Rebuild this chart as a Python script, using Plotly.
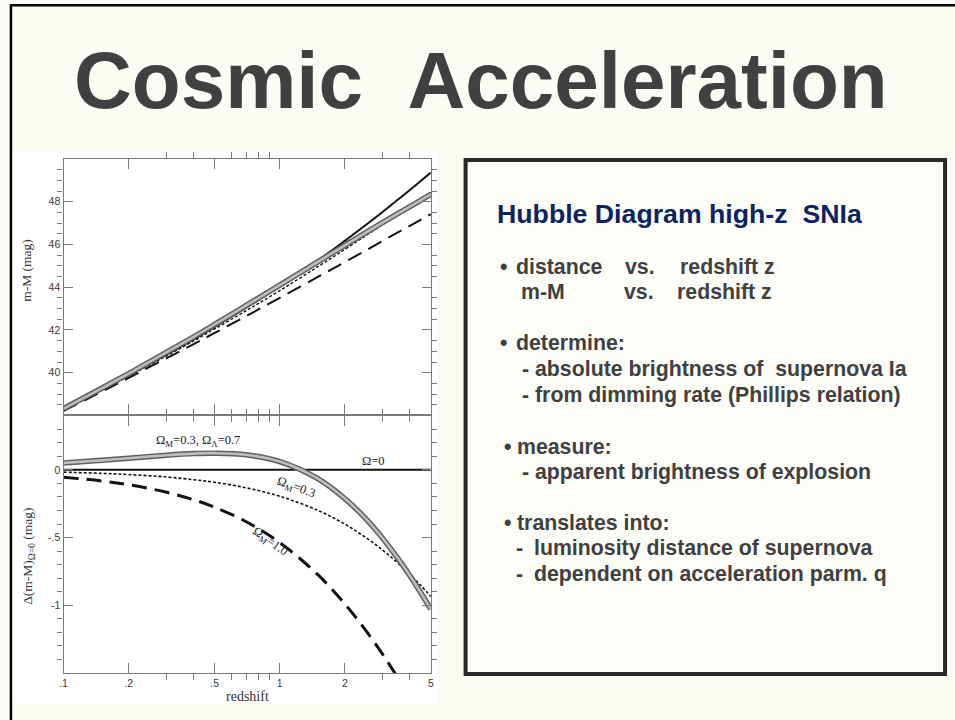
import plotly.graph_objects as go

# ---------------- data ----------------
Z = [0.1, 0.15, 0.2, 0.3, 0.4, 0.5, 0.7, 1.0, 1.5, 2.0, 2.5, 3.0, 3.5, 4.0, 4.5, 5.0]

# distance modulus m-M (mag)
MU_EMPTY = [38.26, 39.20, 39.87, 40.85, 41.56, 42.14, 43.04, 44.04, 45.25, 46.17, 46.91, 47.53, 48.08, 48.55, 48.98, 49.37]
MU_LAMBDA = [38.32, 39.27, 39.96, 40.96, 41.68, 42.26, 43.15, 44.10, 45.19, 45.96, 46.55, 47.03, 47.43, 47.77, 48.08, 48.34]
MU_OPEN = [38.25, 39.17, 39.84, 40.79, 41.49, 42.05, 42.90, 43.84, 44.96, 45.77, 46.41, 46.94, 47.39, 47.78, 48.13, 48.44]
MU_EDS = [38.21, 39.11, 39.76, 40.68, 41.34, 41.86, 42.65, 43.50, 44.48, 45.18, 45.72, 46.17, 46.55, 46.87, 47.16, 47.42]

# difference to the empty (Omega=0) model
D_EMPTY = [0.0] * len(Z)
D_LAMBDA = [0.051, 0.070, 0.086, 0.108, 0.120, 0.123, 0.111, 0.061, -0.065, -0.212, -0.361, -0.508, -0.648, -0.782, -0.909, -1.029]
D_OPEN = [-0.017, -0.026, -0.035, -0.053, -0.073, -0.092, -0.133, -0.195, -0.299, -0.401, -0.500, -0.594, -0.685, -0.772, -0.855, -0.935]
D_EDS = [-0.055, -0.082, -0.110, -0.166, -0.221, -0.276, -0.383, -0.537, -0.774, -0.990, -1.186, -1.365, -1.530, -1.683, -1.826, -1.959]

X_MAJOR = [0.1, 0.2, 0.5, 1, 2, 5]
X_MAJOR_TEXT = [".1", ".2", ".5", "1", "2", "5"]
X_MINOR = [0.3, 0.4, 0.6, 0.7, 0.8, 0.9, 3, 4]
Y_TOP_TICKS = [40, 42, 44, 46, 48]
Y_BOT_TICKS = [-1, -0.5, 0]
Y_BOT_TEXT = ["-1", "-.5", "0"]

TITLE = "Cosmic\u00a0\u00a0Acceleration"
BOX_HEADING = "Hubble Diagram high-z\u00a0\u00a0SNIa"

# ---------------- page geometry (pixels) ----------------
W, H = 955, 720
BG = "#fcfcf5"
TXT = "#404040"


def px(x):
    return x / W


def py(y):
    return 1 - y / H


PLOT_L, PLOT_R = 60, 430
TOP_T, MID, BOT_B = 159, 415, 673
LW = 1.3  # frame line width; panels overlap by it so the shared edge is one line

fig = go.Figure()

AX_COL = "#7a7a7a"


def add_curves(xa, ya, empty, lam, opn, eds, eds_w, dash_w):
    fig.add_trace(go.Scatter(x=Z, y=eds, xaxis=xa, yaxis=ya, mode="lines",
                             line=dict(color="#111", width=eds_w, dash="15px,8px", shape="spline")))
    fig.add_trace(go.Scatter(x=Z, y=opn, xaxis=xa, yaxis=ya, mode="lines",
                             line=dict(color="#111", width=dash_w, dash="3px,2px", shape="spline")))
    fig.add_trace(go.Scatter(x=Z, y=empty, xaxis=xa, yaxis=ya, mode="lines",
                             line=dict(color="#111", width=2, shape="spline")))
    fig.add_trace(go.Scatter(x=Z, y=lam, xaxis=xa, yaxis=ya, mode="lines",
                             line=dict(color="#5e5e5e", width=5.5, shape="spline")))
    fig.add_trace(go.Scatter(x=Z, y=lam, xaxis=xa, yaxis=ya, mode="lines",
                             line=dict(color="#bdbdbd", width=2.6, shape="spline")))


add_curves("x", "y", D_EMPTY, D_LAMBDA, D_OPEN, D_EDS, 3, 1.6)
add_curves("x2", "y2", MU_EMPTY, MU_LAMBDA, MU_OPEN, MU_EDS, 2, 1.4)

tick_font = dict(family="Liberation Sans", size=10.5, color="#3a3a3a")
common_axis = dict(showline=True, linecolor=AX_COL, linewidth=LW, mirror="ticks",
                   ticks="inside", tickcolor=AX_COL, tickwidth=1.2, showgrid=False,
                   zeroline=False, tickfont=tick_font)

xr = [-1, 0.69897]
fig.update_layout(
    xaxis=dict(type="log", range=xr, domain=[px(PLOT_L), px(PLOT_R)], anchor="y",
               tickmode="array", tickvals=X_MAJOR, ticktext=X_MAJOR_TEXT, ticklen=10,
               minor=dict(tickmode="array", tickvals=X_MINOR, ticklen=6, tickcolor=AX_COL),
               **common_axis),
    xaxis2=dict(type="log", range=xr, domain=[px(PLOT_L), px(PLOT_R)], anchor="y2",
                tickmode="array", tickvals=X_MAJOR, showticklabels=False, ticklen=10,
                minor=dict(tickmode="array", tickvals=X_MINOR, ticklen=6, tickcolor=AX_COL),
                **common_axis),
    yaxis=dict(range=[-1.5, 0.4], domain=[py(BOT_B), py(MID + LW / 2)], anchor="x",
               tickmode="array", tickvals=Y_BOT_TICKS, ticktext=Y_BOT_TEXT, ticklen=9,
               minor=dict(tickmode="array",
                          tickvals=[-1.4, -1.3, -1.2, -1.1, -0.9, -0.8, -0.7, -0.6, -0.4, -0.3, -0.2, -0.1, 0.1, 0.2, 0.3],
                          ticklen=5, tickcolor=AX_COL),
               **common_axis),
    yaxis2=dict(range=[38.05, 50], domain=[py(MID - LW / 2), py(TOP_T)], anchor="x2",
                tickmode="array", tickvals=Y_TOP_TICKS, ticklen=9,
                minor=dict(tickmode="array",
                           tickvals=[38.5, 39, 39.5, 40.5, 41, 41.5, 42.5, 43, 43.5, 44.5, 45, 45.5,
                                     46.5, 47, 47.5, 48.5, 49, 49.5],
                           ticklen=5, tickcolor=AX_COL),
                **common_axis),
    width=W, height=H, margin=dict(l=0, r=0, t=0, b=0),
    paper_bgcolor=BG, plot_bgcolor="white", showlegend=False,
)

shapes = [
    # page frame
    dict(type="rect", xref="paper", yref="paper", x0=px(7), y0=py(5.2), x1=px(1000), y1=py(800),
         line=dict(color="#000", width=2.5), layer="below"),
    # white figure area
    dict(type="rect", xref="paper", yref="paper", x0=px(9), y0=py(152), x1=px(437), y1=py(703),
         line=dict(width=0), fillcolor="white", layer="below"),
    # text box
    dict(type="rect", xref="paper", yref="paper", x0=px(465), y0=py(160), x1=px(948), y1=py(674),
         line=dict(color="#2a2a2a", width=4), fillcolor="#fdfdf8", layer="below"),
]
fig.update_layout(shapes=shapes)

ann = []


def text(x, y, s, size, color=TXT, family="Liberation Sans", bold=True, anchor="left", angle=0):
    ann.append(dict(xref="paper", yref="paper", x=px(x), y=py(y), text=(f"<b>{s}</b>" if bold else s),
                    showarrow=False, xanchor=anchor, yanchor="middle", textangle=angle,
                    font=dict(family=family, size=size, color=color)))


# slide title
text(68, 80, TITLE, 80)

# text box contents
text(495, 214, BOX_HEADING, 26.7, color="#0c2461")
S = 21.3
text(498, 267, "•", S)
text(514, 267, "distance", S)
text(624, 267, "vs.", S)
text(679, 267, "redshift z", S)
text(519, 292, "m-M", S)
text(623, 292, "vs.", S)
text(676, 292, "redshift z", S)
text(498, 343, "•", S)
text(514, 343, "determine:", S)
text(520, 369, "-\u00a0absolute brightness of\u00a0\u00a0supernova Ia", S)
text(520, 395, "-\u00a0from dimming rate (Phillips relation)", S)
text(502, 447, "•", S)
text(515, 447, "measure:", S)
text(520, 472, "-\u00a0apparent brightness of explosion", S)
text(502, 523, "•", S)
text(515, 523, "translates into:", S)
text(514, 548, "-", S)
text(532, 548, "luminosity distance of supernova", S)
text(514, 574, "-", S)
text(532, 574, "dependent on acceleration parm. q", S)

# axis titles
SERIF = "Liberation Serif"
text(22, 270, "m-M (mag)", 13.5, color="#333", family=SERIF, bold=False, anchor="center", angle=-90)
text(24, 556, "Δ(m-M)<sub>Ω=0</sub> (mag)", 13.5, color="#333", family=SERIF, bold=False,
     anchor="center", angle=-90)
text(245, 696, "redshift", 14, color="#333", family=SERIF, bold=False, anchor="center")

# curve labels
text(195, 441, "Ω<sub>M</sub>=0.3, Ω<sub>Λ</sub>=0.7", 12.5, color="#222", family=SERIF, bold=False, anchor="center")
text(372, 461, "Ω=0", 12.5, color="#222", family=SERIF, bold=False, anchor="center")
text(294, 488, "Ω<sub>M</sub>=0.3", 12.5, color="#222", family=SERIF, bold=False, anchor="center", angle=20)
text(268, 542, "Ω<sub>M</sub>=1.0", 12.5, color="#222", family=SERIF, bold=False, anchor="center", angle=36)

fig.update_layout(annotations=ann)

fig.write_html("out.html")
